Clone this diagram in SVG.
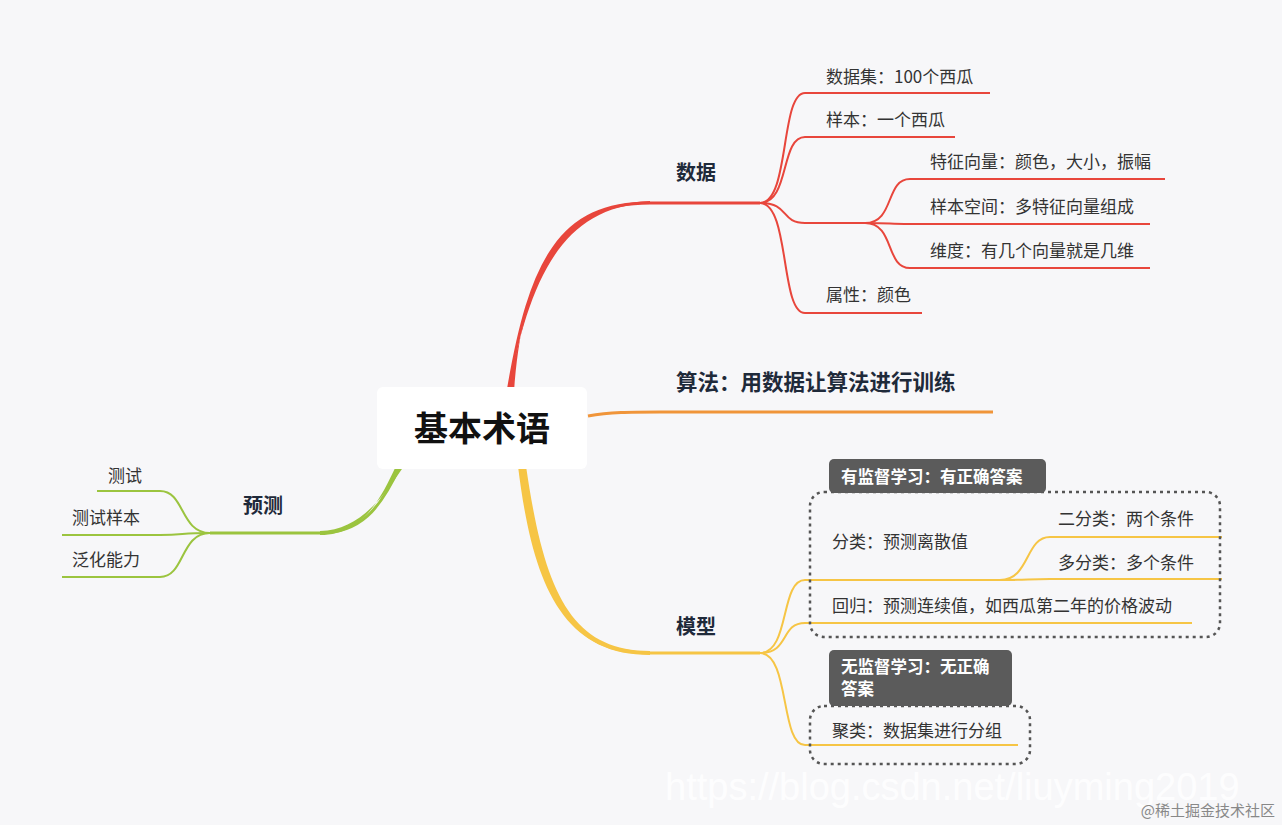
<svg xmlns="http://www.w3.org/2000/svg" width="1282" height="825" viewBox="0 0 1282 825">
<style>
text{font-family:"Noto Sans CJK SC","Noto Sans",sans-serif;fill:#333}
.t{font-size:17px}
.b{font-size:20px;font-weight:bold;fill:#1f2a3a}
.r{fill:none;stroke:#e8463c;stroke-width:2}
.y{fill:none;stroke:#f6c545;stroke-width:2}
.g{fill:none;stroke:#9bc43f;stroke-width:2}
.box{fill:none;stroke:#555;stroke-width:2.5;stroke-dasharray:3 4}
.lab{fill:#5b5b5b}
.lt{font-size:16.5px;font-weight:bold;fill:#fff}
</style>
<rect width="1282" height="825" fill="#f7f7f9"/>
<g id="connectors">
<path d="M508,392 C530,260 560,203 650,203 L760,203" fill="none" stroke="#e8463c" stroke-width="3"/>
<path d="M508,392 C528,290 556,206 650,203 L650,201 C553,204 522,280 514,392 Z" fill="#e8463c"/>
<path d="M588,416 C610,412 630,412 660,412 L993,412" fill="none" stroke="#f0953a" stroke-width="3"/>
<path d="M520,466 C540,600 570,653 650,653 L760,653" fill="none" stroke="#f6c545" stroke-width="3"/>
<path d="M518,466 C532,580 560,655 650,655 L650,651 C570,651 544,590 526,466 Z" fill="#f6c545"/>
<path d="M400,466 C380,510 360,533 320,533 L210,533" fill="none" stroke="#9bc43f" stroke-width="3"/>
<path d="M396,466 C378,505 360,535 320,535 L320,531 C356,530 378,505 404,466 Z" fill="#9bc43f"/>
<path class="r" d="M760,203 C790,203 780,93 805,93 L990,93"/>
<path class="r" d="M760,203 C790,203 780,137 805,137 L955,137"/>
<path class="r" d="M760,203 C790,203 780,223 805,223 L865,223"/>
<path class="r" d="M760,203 C790,203 780,313 805,313 L922,313"/>
<path class="r" d="M865,223 C895,223 885,179 910,179 L1165,179"/>
<path class="r" d="M865,223 C895,223 885,224 910,224 L1150,224"/>
<path class="r" d="M865,223 C895,223 885,268 910,268 L1150,268"/>
<path class="y" d="M760,653 C790,653 780,580 805,580 L1015,580"/>
<path class="y" d="M760,653 C790,653 780,623 805,623 L1192,623"/>
<path class="y" d="M760,653 C790,653 780,745 805,745 L1018,745"/>
<path class="y" d="M1000,580 C1030,580 1025,537 1050,537 L1222,537"/>
<path class="y" d="M1000,580 C1030,580 1025,579 1050,579 L1222,579"/>
<path class="g" d="M210,533 C180,533 185,491 160,491 L97,491"/>
<path class="g" d="M210,533 C180,533 185,535 160,535 L62,535"/>
<path class="g" d="M210,533 C180,533 185,577 160,577 L62,577"/>
</g>
<g id="center"><rect x="377" y="387" width="210" height="82" rx="6" fill="#fff"/><text x="482" y="441" text-anchor="middle" style="font-size:34px;font-weight:bold;fill:#111">基本术语</text></g>
<g id="n-data"><text class="b" x="676" y="180">数据</text></g>
<g id="n-algo"><text class="b" x="676" y="390" style="font-size:21.5px">算法：用数据让算法进行训练</text></g>
<g id="n-model"><text class="b" x="676" y="634">模型</text></g>
<g id="n-pred"><text class="b" x="243" y="513">预测</text></g>
<g id="n1"><text class="t" x="826" y="83">数据集：100个西瓜</text></g>
<g id="n2"><text class="t" x="826" y="126">样本：一个西瓜</text></g>
<g id="n3"><text class="t" x="930" y="168">特征向量：颜色，大小，振幅</text></g>
<g id="n4"><text class="t" x="930" y="213">样本空间：多特征向量组成</text></g>
<g id="n5"><text class="t" x="930" y="257">维度：有几个向量就是几维</text></g>
<g id="n6"><text class="t" x="826" y="301">属性：颜色</text></g>
<g id="box1"><rect class="box" x="810" y="492" width="410" height="145" rx="14"/><rect class="lab" x="829" y="459" width="217" height="34" rx="5"/><text class="lt" x="841" y="483">有监督学习：有正确答案</text></g>
<g id="n7"><text class="t" x="832" y="548">分类：预测离散值</text></g>
<g id="n8"><text class="t" x="1058" y="525">二分类：两个条件</text></g>
<g id="n9"><text class="t" x="1058" y="569">多分类：多个条件</text></g>
<g id="n10"><text class="t" x="832" y="612">回归：预测连续值，如西瓜第二年的价格波动</text></g>
<g id="box2"><rect class="box" x="810" y="706" width="220" height="58" rx="14"/><rect class="lab" x="829" y="650" width="183" height="56" rx="5"/><text class="lt" x="841" y="673">无监督学习：无正确</text><text class="lt" x="841" y="695">答案</text></g>
<g id="n11"><text class="t" x="832" y="737">聚类：数据集进行分组</text></g>
<g id="n12"><text class="t" x="108" y="482">测试</text></g>
<g id="n13"><text class="t" x="72" y="524">测试样本</text></g>
<g id="n14"><text class="t" x="72" y="566">泛化能力</text></g>
<text x="665" y="800" style="font-family:'Liberation Sans',sans-serif;font-size:38px;fill:#fff;fill-opacity:0.85">https://blog.csdn.net/liuyming2019</text>
<text x="1275" y="816" text-anchor="end" style="font-size:15px;fill:#888">@稀土掘金技术社区</text>
</svg>
